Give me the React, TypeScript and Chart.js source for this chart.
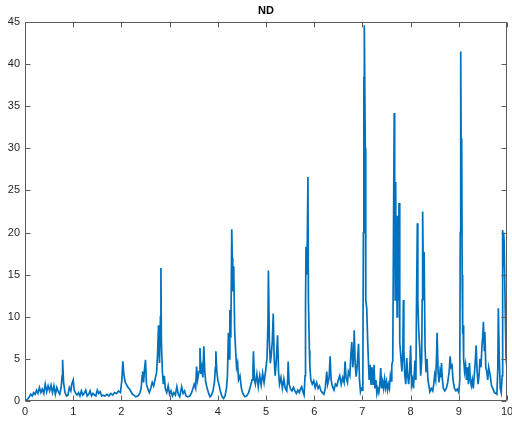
import React, { useEffect, useRef } from "react";
import { Chart, registerables } from "chart.js";

Chart.register(...registerables);

const chartTitle = "ND";
const xTicks = [0, 1, 2, 3, 4, 5, 6, 7, 8, 9, 10];
const yTicks = [0, 5, 10, 15, 20, 25, 30, 35, 40, 45];

const xValues = [
  0.00, 0.04, 0.08, 0.12, 0.15, 0.18, 0.21, 0.24, 0.27, 0.30, 0.33, 0.36, 0.39, 0.42, 0.45, 0.48, 0.51, 0.54, 0.57, 0.60,
  0.63, 0.66, 0.69, 0.72, 0.75, 0.77, 0.78, 0.80, 0.83, 0.86, 0.89, 0.92, 0.95, 0.97, 1.00, 1.02, 1.05, 1.08, 1.11, 1.14,
  1.17, 1.20, 1.23, 1.26, 1.29, 1.32, 1.35, 1.38, 1.41, 1.44, 1.47, 1.50, 1.53, 1.56, 1.59, 1.62, 1.66, 1.70, 1.74, 1.78,
  1.82, 1.86, 1.90, 1.94, 1.98, 2.01, 2.03, 2.05, 2.08, 2.11, 2.14, 2.17, 2.20, 2.23, 2.26, 2.30, 2.34, 2.38, 2.41, 2.43,
  2.44, 2.46, 2.48, 2.50, 2.52, 2.55, 2.58, 2.61, 2.64, 2.67, 2.70, 2.73, 2.75, 2.77, 2.79, 2.81, 2.82, 2.83, 2.85, 2.87,
  2.89, 2.91, 2.94, 2.97, 3.00, 3.03, 3.06, 3.09, 3.12, 3.15, 3.18, 3.21, 3.25, 3.28, 3.31, 3.34, 3.38, 3.42, 3.45, 3.48,
  3.51, 3.54, 3.56, 3.58, 3.61, 3.63, 3.65, 3.67, 3.69, 3.71, 3.73, 3.75, 3.78, 3.81, 3.84, 3.87, 3.90, 3.93, 3.95, 3.96,
  3.98, 4.00, 4.03, 4.06, 4.09, 4.12, 4.15, 4.18, 4.20, 4.22, 4.24, 4.25, 4.27, 4.29, 4.30, 4.31, 4.33, 4.35, 4.37, 4.39,
  4.41, 4.43, 4.46, 4.49, 4.52, 4.56, 4.60, 4.64, 4.68, 4.71, 4.73, 4.74, 4.76, 4.78, 4.81, 4.84, 4.87, 4.90, 4.93, 4.96,
  4.99, 5.02, 5.04, 5.05, 5.07, 5.09, 5.11, 5.13, 5.15, 5.17, 5.19, 5.21, 5.24, 5.26, 5.28, 5.31, 5.34, 5.37, 5.40, 5.43,
  5.45, 5.46, 5.48, 5.51, 5.54, 5.57, 5.60, 5.63, 5.66, 5.69, 5.72, 5.74, 5.77, 5.79, 5.81, 5.82, 5.83, 5.85, 5.87, 5.88,
  5.90, 5.91, 5.93, 5.96, 5.99, 6.02, 6.05, 6.08, 6.11, 6.14, 6.17, 6.20, 6.23, 6.26, 6.28, 6.31, 6.33, 6.35, 6.38, 6.41,
  6.44, 6.47, 6.50, 6.53, 6.56, 6.59, 6.62, 6.64, 6.66, 6.69, 6.71, 6.74, 6.76, 6.78, 6.80, 6.82, 6.83, 6.85, 6.87, 6.89,
  6.92, 6.94, 6.96, 6.98, 7.00, 7.01, 7.02, 7.03, 7.035, 7.04, 7.06, 7.07, 7.09, 7.11, 7.12, 7.14, 7.16, 7.18, 7.20, 7.22,
  7.24, 7.26, 7.28, 7.30, 7.32, 7.34, 7.36, 7.38, 7.40, 7.42, 7.44, 7.46, 7.48, 7.50, 7.52, 7.54, 7.56, 7.58, 7.60, 7.61,
  7.63, 7.645, 7.66, 7.67, 7.68, 7.69, 7.70, 7.71, 7.72, 7.73, 7.74, 7.75, 7.76, 7.77, 7.78, 7.80, 7.82, 7.84, 7.85, 7.86,
  7.88, 7.90, 7.92, 7.94, 7.96, 7.98, 8.00, 8.02, 8.04, 8.06, 8.09, 8.11, 8.12, 8.14, 8.15, 8.17, 8.19, 8.21, 8.23, 8.24,
  8.25, 8.27, 8.28, 8.30, 8.32, 8.34, 8.36, 8.38, 8.40, 8.43, 8.46, 8.48, 8.50, 8.52, 8.54, 8.55, 8.57, 8.59, 8.61, 8.63,
  8.64, 8.66, 8.68, 8.71, 8.74, 8.77, 8.80, 8.82, 8.84, 8.86, 8.88, 8.91, 8.94, 8.97, 9.00, 9.02, 9.03, 9.04, 9.05, 9.06,
  9.07, 9.08, 9.09, 9.10, 9.12, 9.14, 9.16, 9.18, 9.20, 9.22, 9.24, 9.26, 9.28, 9.30, 9.32, 9.34, 9.36, 9.38, 9.40, 9.42,
  9.44, 9.46, 9.48, 9.50, 9.51, 9.53, 9.54, 9.56, 9.58, 9.60, 9.62, 9.65, 9.68, 9.71, 9.74, 9.77, 9.79, 9.81, 9.82, 9.84,
  9.86, 9.88, 9.90, 9.91, 9.92, 9.93, 9.94, 9.96, 9.98, 10.0,
];

const yValues = [
  0.1, 0.1, 0.4, 0.8, 0.6, 1.0, 0.8, 1.3, 0.9, 1.6, 1.0, 1.4, 0.9, 2.0, 1.1, 1.8, 1.2, 1.9, 1.0, 1.8,
  0.8, 1.6, 1.1, 0.8, 1.6, 3.0, 4.9, 2.2, 1.0, 0.6, 0.7, 1.6, 1.2, 2.0, 2.5, 1.3, 0.9, 0.7, 1.0, 0.6,
  1.2, 0.7, 0.9, 1.3, 0.6, 0.8, 1.2, 0.6, 0.9, 0.7, 0.6, 1.3, 0.9, 1.1, 0.6, 0.7, 0.6, 0.8, 0.6, 0.9,
  0.7, 1.0, 0.9, 1.2, 1.0, 2.5, 4.7, 3.2, 2.2, 1.9, 1.6, 1.4, 1.1, 0.8, 0.7, 0.5, 0.6, 0.9, 1.5, 3.0,
  3.5, 2.2, 3.8, 4.9, 2.0, 1.4, 1.0, 1.5, 2.2, 1.8, 2.6, 3.4, 5.5, 9.0, 4.5, 10.0, 15.8, 7.0, 3.5, 2.0,
  3.0, 1.5, 1.0, 1.8, 0.8, 1.2, 0.6, 1.0, 0.7, 1.7, 0.8, 0.5, 1.7, 0.9, 1.2, 0.6, 0.5, 0.6, 0.9, 1.4,
  2.0, 1.5, 4.1, 2.5, 3.5, 6.3, 3.2, 4.0, 2.8, 6.5, 3.5, 2.2, 1.5, 0.9, 0.5, 0.7, 1.2, 2.2, 4.0, 5.9,
  3.5, 2.5, 1.8, 1.0, 0.5, 0.3, 0.6, 1.5, 3.0, 8.1, 5.0, 10.8, 7.5, 20.4, 17.0, 13.0, 16.0, 8.4, 6.0, 4.0,
  4.5, 2.5, 3.0, 1.5, 0.9, 0.5, 0.6, 1.0, 1.8, 2.5, 4.0, 5.9, 2.5, 2.0, 3.2, 1.7, 3.0, 1.9, 3.3, 2.2,
  3.5, 5.0, 9.0, 15.5, 7.0, 4.5, 5.5, 7.0, 10.4, 5.0, 3.0, 4.5, 7.8, 3.5, 2.0, 2.8, 1.5, 2.6, 1.5, 1.2,
  2.5, 4.7, 2.0, 1.4, 1.2, 1.6, 1.2, 0.9, 1.3, 1.0, 1.5, 1.7, 1.0, 0.7, 3.0, 11.4, 18.3, 15.0, 26.6, 12.0,
  6.0, 4.1, 2.5, 2.0, 2.4, 1.6, 2.2, 1.5, 1.8, 1.2, 1.0, 0.8, 1.5, 3.5, 2.0, 2.8, 5.3, 2.5, 1.7, 1.3,
  2.0, 1.8, 2.5, 3.0, 2.0, 2.8, 2.2, 4.7, 2.8, 2.2, 3.5, 3.0, 5.5, 7.0, 4.0, 5.5, 8.4, 4.5, 2.9, 4.0,
  6.8, 2.5, 1.1, 1.5, 1.3, 3.5, 20.0, 38.5, 34.5, 44.6, 30.0, 12.0, 11.0, 7.0, 5.5, 2.5, 4.3, 1.9, 4.0, 2.0,
  4.3, 1.5, 2.5, 0.9, 1.5, 1.0, 1.8, 3.9, 1.5, 2.3, 1.5, 2.6, 1.6, 2.3, 1.3, 2.0, 1.5, 3.0, 2.4, 4.3,
  4.8, 20.0, 34.2, 25.0, 12.0, 26.0, 14.0, 21.0, 10.0, 22.0, 12.0, 18.0, 23.5, 13.0, 7.0, 5.0, 3.5, 6.0, 12.0, 6.0,
  3.0, 2.0, 5.1, 3.0, 2.0, 3.5, 6.6, 1.9, 2.5, 1.5, 4.8, 2.5, 10.0, 21.1, 12.0, 8.2, 6.3, 3.0, 4.8, 12.0,
  22.5, 12.0, 17.7, 6.3, 3.5, 5.0, 2.5, 1.8, 1.1, 1.5, 1.2, 2.0, 3.1, 2.5, 5.5, 8.1, 3.5, 2.2, 3.5, 2.8,
  4.5, 2.5, 1.5, 1.2, 1.5, 2.2, 3.5, 5.3, 4.0, 4.2, 2.5, 1.5, 1.2, 1.4, 1.0, 2.5, 20.0, 41.5, 28.0, 31.2,
  15.0, 8.0, 9.0, 5.0, 3.5, 4.3, 2.5, 4.0, 2.0, 4.5, 2.5, 1.8, 2.5, 1.5, 3.0, 4.5, 6.6, 3.5, 2.0, 3.0,
  5.0, 4.0, 6.5, 8.0, 9.4, 6.0, 8.2, 4.0, 3.5, 2.5, 4.0, 3.1, 1.8, 1.4, 1.0, 0.9, 0.8, 4.0, 11.0, 5.0,
  1.5, 1.0, 3.0, 20.3, 16.0, 20.0, 19.0, 12.0, 5.0, 4.0,
];

const AXIS_COLOR = "#5c5c5c";
const LABEL_COLOR = "#262626";
const LINE_COLOR = "#0072BD";
const FONT = "'Liberation Sans', Arial, Helvetica, sans-serif";

const boxPlugin = {
  id: "matlabBox",
  afterDraw(chart: any) {
    const { ctx, chartArea: a, scales } = chart;
    const xs = scales.x;
    const ys = scales.y;
    const L = Math.round(a.left) + 0.5;
    const R = Math.round(a.right) - 0.5;
    const T = Math.round(a.top) + 0.5;
    const B = Math.round(a.bottom) - 0.5;
    const tl = 5;
    ctx.save();
    ctx.strokeStyle = AXIS_COLOR;
    ctx.lineWidth = 1;
    ctx.beginPath();
    ctx.rect(L, T, R - L, B - T);
    for (const v of xTicks) {
      const px = Math.round(xs.getPixelForValue(v)) + 0.5;
      ctx.moveTo(px, B);
      ctx.lineTo(px, B - tl);
      ctx.moveTo(px, T);
      ctx.lineTo(px, T + tl);
    }
    for (const v of yTicks) {
      const py = Math.round(ys.getPixelForValue(v)) + 0.5;
      ctx.moveTo(L, py);
      ctx.lineTo(L + tl, py);
      ctx.moveTo(R, py);
      ctx.lineTo(R - tl, py);
    }
    ctx.stroke();
    ctx.fillStyle = "#000";
    ctx.font = `bold 11px ${FONT}`;
    ctx.textAlign = "center";
    ctx.textBaseline = "middle";
    ctx.fillText(chartTitle, (a.left + a.right) / 2, 11);
    ctx.restore();
  },
};

export default function App() {
  const ref = useRef<HTMLCanvasElement | null>(null);
  useEffect(() => {
    if (!ref.current) return;
    const points = xValues.map((x, i) => ({ x, y: yValues[i] }));
    const chart = new Chart(ref.current, {
      type: "line",
      data: {
        datasets: [
          {
            data: points,
            borderColor: LINE_COLOR,
            borderWidth: 1.7,
            pointRadius: 0,
            tension: 0,
            fill: false,
          },
        ],
      },
      options: {
        animation: false,
        responsive: true,
        maintainAspectRatio: false,
        layout: { padding: { top: 22, right: 5, left: 0, bottom: 0 } },
        plugins: {
          legend: { display: false },
          tooltip: { enabled: false },
          title: { display: false },
        },
        scales: {
          x: {
            type: "linear",
            min: 0,
            max: 10,
            afterFit: (s: any) => {
              s.height = 22;
              s.paddingLeft = 0;
              s.paddingRight = 0;
            },
            grid: { display: false, drawTicks: false },
            border: { display: false },
            ticks: {
              stepSize: 1,
              padding: 4,
              color: LABEL_COLOR,
              font: { family: FONT, size: 11 },
              maxRotation: 0,
              autoSkip: false,
            },
          },
          y: {
            type: "linear",
            min: 0,
            max: 45,
            afterFit: (s: any) => {
              s.width = 25;
              s.paddingTop = 0;
              s.paddingBottom = 0;
            },
            grid: { display: false, drawTicks: false },
            border: { display: false },
            ticks: {
              stepSize: 5,
              padding: 5,
              color: LABEL_COLOR,
              font: { family: FONT, size: 11 },
              autoSkip: false,
            },
          },
        },
      },
      plugins: [boxPlugin],
    });
    return () => chart.destroy();
  }, []);
  return (
    <div style={{ position: "fixed", left: 0, top: 0, width: 512, height: 423, background: "#fff" }}>
      <canvas ref={ref} />
    </div>
  );
}
